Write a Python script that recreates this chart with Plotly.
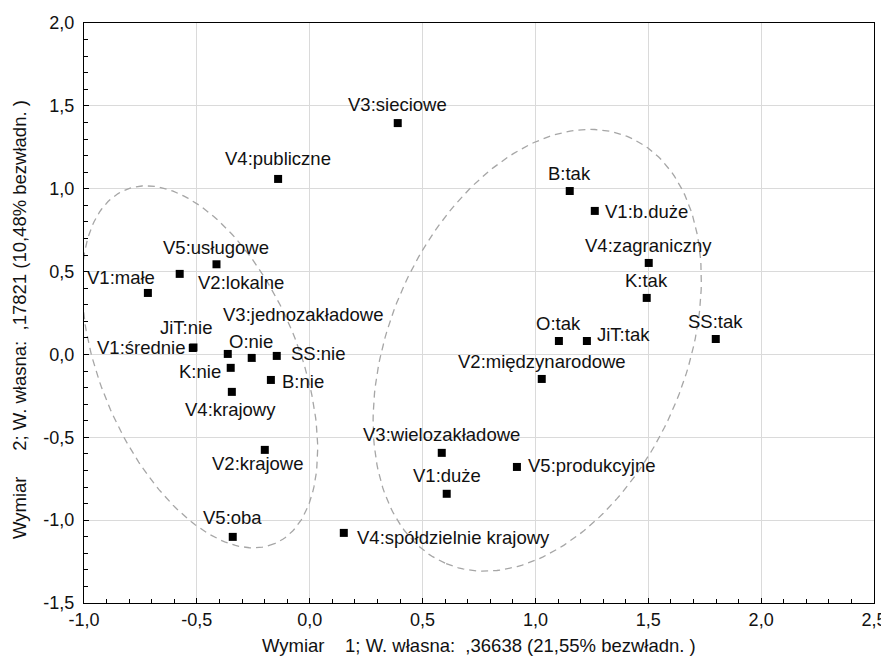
import numpy as np
import plotly.graph_objects as go

# ---- data ----
labels = ["V3:sieciowe", "V4:publiczne", "V5:usługowe", "V2:lokalne", "V1:małe",
          "V1:średnie", "JiT:nie", "O:nie", "V3:jednozakładowe", "SS:nie",
          "K:nie", "B:nie", "V4:krajowy", "V2:krajowe", "V5:oba",
          "B:tak", "V1:b.duże", "V4:zagraniczny", "K:tak", "SS:tak",
          "O:tak", "JiT:tak", "V2:międzynarodowe", "V3:wielozakładowe", "V1:duże",
          "V5:produkcyjne", "V4:spółdzielnie krajowy"]
dim1 = [0.390, -0.140, -0.413, -0.576, -0.717,
        -0.518, -0.515, -0.363, -0.257, -0.146,
        -0.350, -0.172, -0.345, -0.199, -0.341,
        1.152, 1.263, 1.502, 1.493, 1.799,
        1.104, 1.228, 1.028, 0.585, 0.607,
        0.918, 0.151]
dim2 = [1.396, 1.059, 0.544, 0.486, 0.371,
        0.039, 0.042, 0.003, -0.021, -0.009,
        -0.081, -0.154, -0.226, -0.576, -1.101,
        0.986, 0.866, 0.552, 0.341, 0.093,
        0.081, 0.081, -0.148, -0.594, -0.841,
        -0.679, -1.077]
x_ticks = [-1.0, -0.5, 0.0, 0.5, 1.0, 1.5, 2.0, 2.5]
y_ticks = [-1.5, -1.0, -0.5, 0.0, 0.5, 1.0, 1.5, 2.0]
x_ticktext = ["-1,0", "-0,5", "0,0", "0,5", "1,0", "1,5", "2,0", "2,5"]
y_ticktext = ["-1,5", "-1,0", "-0,5", "0,0", "0,5", "1,0", "1,5", "2,0"]
x_title = "Wymiar\u00a0\u00a0\u00a0\u00a01; W. własna:\u00a0\u00a0,36638 (21,55% bezwładn. )"
y_title = "Wymiar\u00a0\u00a0\u00a0\u00a0\u00a02; W. własna:\u00a0\u00a0,17821 (10,48% bezwładn. )"

# ---- label placement style: (xanchor, xshift px, yshift px) ----
label_style = [("center", 0, 19), ("center", 0, 20), ("center", 0, 17), ("center", 61, -9), ("center", -27, 15),
               ("right", -6, 0), ("center", -7, 20), ("center", 23, 12), ("center", 51, 43), ("left", 12, 2),
               ("right", -8, -4), ("left", 9, -2), ("center", -1, -18), ("center", -7, -14), ("center", 0, 19),
               ("center", 0, 18), ("left", 8, -1), ("center", 0, 17), ("center", 0, 17), ("center", 0, 18),
               ("center", 0, 18), ("left", 8, 7), ("center", 0, 17), ("center", 0, 18), ("center", 0, 18),
               ("left", 9, 1), ("left", 11, -5)]

FONT = "Liberation Sans, Arial, sans-serif"
# page body has an 8px default margin; figure size/margins compensate for it
W, H = 881, 650
ML, MR, MT, MB = 76, 15, 15, 55
xr, yr = [-1.0, 2.5], [-1.5, 2.0]
pxx = (W - ML - MR) / (xr[1] - xr[0])
pxy = (H - MT - MB) / (yr[1] - yr[0])

fig = go.Figure()

# dashed grouping ellipses (centre in data units, axes in px, angle deg, y-down)
def ellipse(cx, cy, a, b, ang_deg, n=200):
    t = np.linspace(0, 2 * np.pi, n)
    ang = np.deg2rad(ang_deg)
    dx = a * np.cos(t) * np.cos(ang) - b * np.sin(t) * np.sin(ang)
    dy = a * np.cos(t) * np.sin(ang) + b * np.sin(t) * np.cos(ang)
    return cx + dx / pxx, cy - dy / pxy

for (cx, cy, a, b, ang) in [(-0.487, -0.075, 192, 99, 67.1), (1.008, 0.025, 232, 148, 113.4)]:
    ex, ey = ellipse(cx, cy, a, b, ang)
    fig.add_trace(go.Scatter(x=ex, y=ey, mode="lines", hoverinfo="skip",
                             line=dict(color="#a6a6a6", width=1.3, dash="7px,5px")))

fig.add_trace(go.Scatter(x=dim1, y=dim2, mode="markers", text=labels,
                         marker=dict(symbol="square", size=8, color="black")))

for lab, xv, yv, (anc, xs, ys) in zip(labels, dim1, dim2, label_style):
    fig.add_annotation(x=xv, y=yv, text=lab, showarrow=False, xanchor=anc, yanchor="middle",
                       xshift=xs, yshift=ys, font=dict(family=FONT, size=18.5, color="#111"))

axis_common = dict(showline=True, linecolor="black", linewidth=1, mirror=True, automargin=False,
                   showgrid=True, gridcolor="#dadada", gridwidth=1, zeroline=False,
                   ticks="inside", ticklen=5, tickcolor="black", ticklabeloverflow="allow",
                   tickfont=dict(family=FONT, size=18, color="#111"),
                   minor=dict(ticks="inside", ticklen=4, dtick=0.1, tickcolor="black", showgrid=False))

fig.update_xaxes(range=xr, tickmode="array", tickvals=x_ticks, ticktext=x_ticktext, **axis_common)
fig.update_yaxes(range=yr, tickmode="array", tickvals=y_ticks, ticktext=y_ticktext,
                 ticklabelstandoff=5, **axis_common)

# axis titles as paper annotations
fig.add_annotation(xref="paper", yref="paper", x=0.5, y=0, yshift=-42, text=x_title,
                   showarrow=False, xanchor="center", yanchor="middle",
                   font=dict(family=FONT, size=18.5, color="#111"))
fig.add_annotation(xref="paper", yref="paper", x=0, xshift=-65,
                   y=(603 - 320) / (H - MT - MB),
                   text=y_title, textangle=-90, showarrow=False, xanchor="center", yanchor="middle",
                   font=dict(family=FONT, size=18.5, color="#111"))

fig.update_layout(width=W, height=H, margin=dict(l=ML, r=MR, t=MT, b=MB),
                  plot_bgcolor="white", paper_bgcolor="white", showlegend=False)

fig.write_html("out.html")
